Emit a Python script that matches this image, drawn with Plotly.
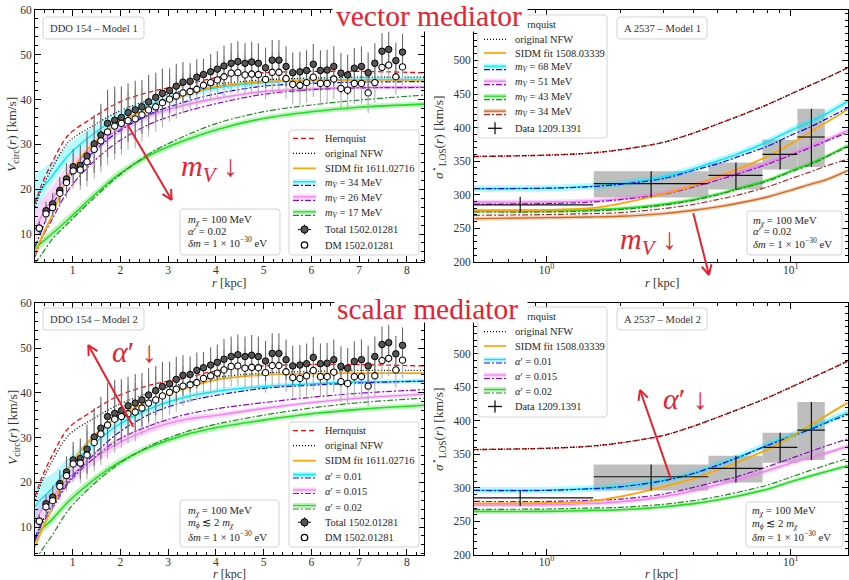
import numpy as np
import plotly.graph_objects as go

# ---------------- DDO 154 rotation curve (1502.01281) ----------------
r_ddo = [0.30, 0.44, 0.58, 0.73, 0.87, 1.01, 1.16, 1.30, 1.45, 1.59, 1.73, 1.88, 2.02, 2.16,
         2.31, 2.45, 2.59, 2.74, 2.88, 3.03, 3.17, 3.31, 3.46, 3.60, 3.74, 3.89, 4.03, 4.17,
         4.32, 4.46, 4.61, 4.75, 4.89, 5.04, 5.18, 5.32, 5.47, 5.61, 5.76, 5.90, 6.04, 6.19,
         6.33, 6.47, 6.62, 6.76, 6.90, 7.05, 7.19, 7.33, 7.48, 7.62, 7.77, 7.91]
v_total = [11.3, 15.2, 16.7, 19.7, 22.3, 25.0, 25.3, 27.4, 30.1, 32.1, 34.7, 35.4, 36.0, 37.1,
           37.7, 38.4, 39.5, 40.5, 41.4, 42.0, 43.0, 43.9, 44.1, 45.0, 45.6, 46.2, 46.8, 47.5,
           48.1, 48.5, 48.1, 48.4, 48.1, 47.1, 48.8, 48.8, 47.4, 46.0, 46.2, 46.5, 47.9, 46.5,
           46.6, 47.4, 45.9, 45.5, 47.0, 47.4, 46.0, 48.1, 50.8, 51.2, 48.7, 50.6]
v_dm = [11.3, 14.5, 15.9, 19.1, 21.5, 24.1, 24.3, 26.1, 28.9, 30.8, 32.8, 34.1, 34.7, 35.3,
        35.7, 36.6, 37.7, 38.4, 39.3, 40.1, 40.8, 41.5, 41.8, 42.3, 43.2, 43.8, 44.4, 45.1,
        45.9, 46.0, 45.5, 45.7, 45.6, 44.5, 46.1, 46.1, 44.7, 43.4, 43.2, 43.8, 45.0, 43.6,
        43.6, 44.6, 42.5, 42.1, 43.6, 43.6, 41.5, 43.8, 47.2, 47.7, 45.1, 47.3]
v_err = [1.5, 2, 2.5, 3, 3.5, 4, 4.5, 5.5, 6.5, 7, 7.5, 7.5, 7, 6.5,
         6.5, 6, 6, 5.5, 5.5, 5, 5, 4.5, 4, 4, 3.5, 4, 4, 4.5,
         4.5, 4.5, 4.5, 4.5, 4.5, 4.5, 4.5, 4.5, 4.5, 4.5, 4.5, 4.5, 4.5, 4.5,
         4.5, 4.5, 4.5, 4.5, 4.5, 4.5, 4.5, 4.5, 4, 4, 4, 4]

# ---------------- A 2537 velocity dispersion (1209.1391) ----------------
r_a2537 = [0.78, 2.68, 5.96, 9.04, 12.14]
sig_a2537 = [285, 316.6, 329, 360.2, 386]
r_lo_a2537 = [0.30, 1.56, 4.60, 7.66, 10.64]
r_hi_a2537 = [1.55, 4.60, 7.66, 10.64, 13.77]
sig_lo_a2537 = [273, 296, 308, 337.5, 341.5]
sig_hi_a2537 = [297, 335, 348, 382, 428]
box_a2537 = [False, True, True, True, True]

# ---------------- DDO 154 model curves ----------------
R_ddo = [0.21, 0.35, 0.56, 0.91, 1.4, 1.95, 2.65, 3.35, 4.05, 5.0, 6.0, 7.0, 8.36]
hern_ddo = [16.8, 21.0, 25.8, 32.1, 35.8, 39.3, 41.8, 43.3, 45.0, 46.0, 46.3, 46.3, 46.0]
nfw_ddo = [16.0, 20.0, 24.5, 30.5, 34.0, 37.3, 40.1, 42.1, 43.5, 44.4, 44.8, 45.0, 45.0]
sidm_ddo = [5.5, 9.3, 14.0, 23.0, 29.9, 34.7, 38.3, 41.0, 43.0, 44.0, 44.3, 44.4, 44.4]
# Model 1 (vector mediator)
mv34_sol = [17.4, 20.0, 22.8, 27.6, 32.1, 36.0, 39.0, 41.2, 42.7, 43.8, 44.3, 44.5, 44.5]
mv34_lo = [14.5, 17.8, 21.0, 26.0, 30.6, 34.8, 38.0, 40.4, 42.0, 43.2, 43.7, 43.9, 43.9]
mv34_hi = [23.2, 24.5, 26.2, 30.0, 33.8, 37.3, 40.0, 41.9, 43.3, 44.4, 44.9, 45.1, 45.1]
mv34_dd = [7.2, 10.8, 16.1, 22.4, 28.0, 32.8, 36.9, 39.5, 41.4, 43.0, 43.6, 43.9, 44.0]
mv26_sol = [10.9, 14.0, 17.6, 23.5, 28.9, 33.2, 36.6, 38.8, 40.3, 41.8, 42.4, 42.7, 42.8]
mv26_lo = [8.0, 11.5, 15.2, 21.5, 27.3, 32.0, 35.8, 38.2, 39.8, 41.4, 42.0, 42.3, 42.4]
mv26_hi = [15.0, 17.8, 20.5, 25.8, 30.6, 34.4, 37.4, 39.4, 40.8, 42.2, 42.8, 43.1, 43.2]
mv26_dd = [4.9, 9.0, 13.1, 19.8, 25.8, 30.6, 34.7, 37.3, 39.2, 41.2, 42.2, 42.6, 42.7]
mv17_sol = [6.8, 8.1, 10.0, 13.3, 18.2, 23.2, 27.8, 30.9, 33.4, 35.8, 37.3, 38.3, 39.0]
mv17_lo = [5.6, 7.0, 9.0, 12.3, 17.3, 22.3, 27.0, 30.2, 32.7, 35.2, 36.7, 37.7, 38.4]
mv17_hi = [8.0, 9.2, 11.0, 14.3, 19.1, 24.1, 28.6, 31.6, 34.1, 36.4, 37.9, 38.9, 39.6]
mv17_dd = [3.5, 5.5, 8.7, 12.5, 17.6, 22.9, 28.2, 31.9, 34.8, 37.3, 38.8, 39.9, 41.0]
# Model 2 (scalar mediator)
a01_sol = [14.5, 16.4, 18.5, 23.3, 28.2, 32.8, 36.6, 39.0, 40.4, 41.4, 42.0, 42.4, 42.6]
a01_lo = [11.0, 13.5, 16.2, 21.5, 26.8, 31.6, 35.7, 38.3, 39.8, 40.9, 41.5, 41.9, 42.1]
a01_hi = [20.0, 20.8, 21.8, 25.6, 29.8, 34.0, 37.5, 39.7, 41.0, 41.9, 42.5, 42.9, 43.1]
a01_dd = [7.5, 11.0, 14.6, 20.2, 25.8, 31.0, 35.4, 38.0, 39.5, 41.0, 41.7, 42.2, 42.6]
a015_sol = [10.9, 13.8, 16.5, 20.9, 25.0, 28.7, 32.0, 34.0, 35.0, 36.5, 37.8, 38.8, 39.7]
a015_lo = [8.5, 11.5, 14.5, 19.2, 23.6, 27.6, 31.1, 33.3, 34.4, 36.0, 37.4, 38.4, 39.3]
a015_hi = [13.5, 16.0, 18.6, 22.7, 26.5, 29.9, 32.9, 34.7, 35.6, 37.0, 38.2, 39.2, 40.1]
a015_dd = [6.8, 10.5, 13.9, 19.8, 25.0, 29.5, 32.8, 35.1, 36.5, 37.8, 39.0, 39.9, 40.7]
a02_sol = [7.5, 9.5, 11.6, 15.7, 20.2, 24.3, 28.0, 30.6, 32.3, 33.9, 35.3, 36.3, 37.2]
a02_lo = [6.3, 8.4, 10.6, 14.7, 19.3, 23.4, 27.2, 29.9, 31.6, 33.3, 34.7, 35.7, 36.6]
a02_hi = [8.7, 10.6, 12.6, 16.7, 21.1, 25.2, 28.8, 31.3, 33.0, 34.5, 35.9, 36.9, 37.8]
a02_dd = [2.5, 4.8, 8.0, 13.8, 19.2, 24.0, 28.3, 31.2, 33.1, 35.0, 36.6, 37.8, 38.8]

# ---------------- A 2537 model curves ----------------
R_a = [0.505, 1, 1.5, 2, 3, 4, 5, 6, 8, 10, 12, 14, 17.1]
hern_a = [357, 359, 362, 367, 378, 392, 405, 416, 434, 450, 463, 474, 489]
nfw_a = [357, 359, 362, 367, 378, 392, 405, 416, 434, 450, 463, 474, 489]
sidm_a = [277, 277.5, 280, 287, 301.5, 314, 326.5, 337.5, 357, 376, 393.5, 408, 427]
# Model 1
mv68_sol = [309.2, 310, 312.6, 316.6, 326.5, 339, 350.3, 360.2, 378.6, 396, 408.4, 420.8, 439]
mv68_dd = [309.2, 309.8, 312, 315.6, 324, 336.5, 346, 356, 372, 388.5, 401, 413, 429.5]
mv51_sol = [289.3, 289.3, 291, 294, 302.7, 314, 324, 332.5, 347.3, 361.2, 372, 382, 396]
mv51_dd = [286, 287, 289, 292.8, 300.7, 311.6, 321.6, 330.5, 345.4, 358.8, 370, 380, 393]
mv43_sol = [276, 276, 277.5, 279.4, 285.8, 292.8, 300.7, 308.7, 321.6, 335.5, 346.4, 357.3, 373]
mv43_dd = [274.5, 274.5, 276, 278, 284.4, 291.8, 299.7, 307.7, 320, 334, 345, 356.3, 372]
mv34a_sol = [264.5, 266, 267, 268, 272, 277, 282, 287, 296.8, 306.7, 315.6, 322.6, 336]
mv34a_dd = [269.5, 270.5, 272, 273.4, 279.4, 285.8, 292.8, 299.2, 311.6, 324, 334, 343, 353]
band_a_68 = [5, 5, 5, 5, 5, 5, 5, 5, 5, 5, 5, 5, 5]
band_a_51 = [3.5, 3.5, 3.5, 3.5, 3.5, 3.5, 3.5, 3.5, 3.5, 3.5, 3.5, 3.5, 3.5]
band_a_43 = [3, 3, 3, 3, 3, 3, 3, 3, 3, 3, 3, 3, 3]
band_a_34 = [3, 3, 3, 3, 3, 3, 3, 3, 3, 3, 3, 3, 3]
# Model 2
a01a_sol = [296.7, 296.7, 299, 302, 311, 322, 334, 345, 364, 378, 389, 399, 412]
a01a_dd = [296.2, 296.2, 298.5, 301.5, 310.5, 321.5, 333.5, 344.3, 363, 376.5, 387, 397, 409.5]
a015a_sol = [274.5, 274.8, 276.5, 279.3, 286.8, 295.7, 304.6, 311.6, 325.5, 337, 345, 352, 362]
a015a_dd = [279.8, 279.8, 281.5, 283.3, 290.7, 300.7, 309.6, 316.5, 331.4, 343.8, 354.2, 362.7, 373]
a02a_sol = [265, 265, 266.5, 267.5, 271.5, 276.5, 282, 287.5, 298, 309, 317.5, 324.5, 333]
a02a_dd = [268, 268.5, 270, 271, 275.5, 281, 287, 293, 304, 316, 326, 334, 344]
band_b_01 = [5, 5, 5, 5, 5, 5, 5, 5, 5, 5, 5, 5, 5]
band_b_015 = [3.5, 3.5, 3.5, 3.5, 3.5, 3.5, 3.5, 3.5, 3.5, 3.5, 3.5, 3.5, 3.5]
band_b_02 = [3, 3, 3, 3, 3, 3, 3, 3, 3, 3, 3, 3, 3]

# ---------------- style ----------------
FONT = "Liberation Serif"
RED_TXT = "#e8202f"
C_RED = "#ff0000"
C_ORANGE = "#ffa500"
C_CYAN = "#00e6ff"
B_CYAN = "rgba(0,230,255,0.28)"
C_BLUE = "#0a0aff"
C_VIOLET = "#ee82ee"
B_VIOLET = "rgba(238,130,238,0.33)"
C_PURPLE = "#9400d3"
C_GREEN = "#22dd22"
B_GREEN = "rgba(40,220,40,0.30)"
C_DGREEN = "#1e8b1e"
C_CHOC = "#d2691e"
B_CHOC = "rgba(210,105,30,0.30)"
C_BROWN = "#a52a2a"
DASH = "5px,3px"
DOT = "1px,2px"
DASHDOT = "6px,2px,2px,2px"

W, H = 849, 580
ML, MR, MT, MB = 35, 1, 10, 25
PW = W - ML - MR
PH = H - MT - MB


def X(px):
    return (px - ML) / PW


def Y(py):
    return 1 - (py - MT) / PH


fig = go.Figure()


def ids(i):
    return ("x" if i == 1 else "x%d" % i, "y" if i == 1 else "y%d" % i)


def add_line(i, x, y, color, width, dash="solid"):
    xa, ya = ids(i)
    fig.add_trace(go.Scatter(x=x, y=y, mode="lines", xaxis=xa, yaxis=ya,
                             line=dict(color=color, width=width, dash=dash, shape="spline", smoothing=0.9),
                             hoverinfo="skip", showlegend=False))


def add_band(i, x, lo, hi, color):
    xa, ya = ids(i)
    fig.add_trace(go.Scatter(x=x, y=lo, mode="lines", xaxis=xa, yaxis=ya,
                             line=dict(width=0, shape="spline", smoothing=0.9),
                             hoverinfo="skip", showlegend=False))
    fig.add_trace(go.Scatter(x=x, y=hi, mode="lines", xaxis=xa, yaxis=ya, fill="tonexty", fillcolor=color,
                             line=dict(width=0, shape="spline", smoothing=0.9),
                             hoverinfo="skip", showlegend=False))


def band_from_width(c, w):
    return [a - b for a, b in zip(c, w)], [a + b for a, b in zip(c, w)]


def add_ddo_data(i):
    xa, ya = ids(i)
    fig.add_trace(go.Scatter(x=r_ddo, y=v_dm, mode="markers", xaxis=xa, yaxis=ya,
                             marker=dict(size=2, color="rgba(0,0,0,0)"),
                             error_y=dict(type="data", array=v_err, color="#b0b0b0", thickness=1.1, width=0),
                             hoverinfo="skip", showlegend=False))
    fig.add_trace(go.Scatter(x=r_ddo, y=v_total, mode="markers", xaxis=xa, yaxis=ya,
                             marker=dict(size=6.5, color="#555555", line=dict(color="black", width=1)),
                             error_y=dict(type="data", array=v_err, color="#6a6a6a", thickness=1.1, width=0),
                             hoverinfo="skip", showlegend=False))
    fig.add_trace(go.Scatter(x=r_ddo, y=v_dm, mode="markers", xaxis=xa, yaxis=ya,
                             marker=dict(size=6.3, color="white", line=dict(color="black", width=1.1)),
                             hoverinfo="skip", showlegend=False))


def add_a2537_boxes(i):
    xa, ya = ids(i)
    for k in range(len(r_a2537)):
        if not box_a2537[k]:
            continue
        fig.add_trace(go.Scatter(
            x=[r_lo_a2537[k], r_hi_a2537[k], r_hi_a2537[k], r_lo_a2537[k], r_lo_a2537[k]],
            y=[sig_lo_a2537[k], sig_lo_a2537[k], sig_hi_a2537[k], sig_hi_a2537[k], sig_lo_a2537[k]],
            mode="lines", fill="toself", fillcolor="#bebebe", line=dict(width=0),
            xaxis=xa, yaxis=ya, hoverinfo="skip", showlegend=False))


def add_a2537_cross(i):
    xa, ya = ids(i)
    fig.add_trace(go.Scatter(
        x=r_a2537, y=sig_a2537, mode="markers", xaxis=xa, yaxis=ya,
        marker=dict(size=1, color="rgba(0,0,0,0)"),
        error_x=dict(type="data", symmetric=False,
                     array=[h - r for h, r in zip(r_hi_a2537, r_a2537)],
                     arrayminus=[r - l for l, r in zip(r_lo_a2537, r_a2537)],
                     color="#111111", thickness=1.2, width=0),
        error_y=dict(type="data", symmetric=False,
                     array=[h - s for h, s in zip(sig_hi_a2537, sig_a2537)],
                     arrayminus=[s - l for l, s in zip(sig_lo_a2537, sig_a2537)],
                     color="#111111", thickness=1.2, width=0),
        hoverinfo="skip", showlegend=False))


# ---------- panel 1 : DDO 154 model 1 ----------
add_band(1, R_ddo, mv34_lo, mv34_hi, B_CYAN)
add_band(1, R_ddo, mv26_lo, mv26_hi, B_VIOLET)
add_band(1, R_ddo, mv17_lo, mv17_hi, B_GREEN)
add_line(1, R_ddo, mv34_sol, C_CYAN, 1.4)
add_line(1, R_ddo, mv26_sol, C_VIOLET, 1.4)
add_line(1, R_ddo, mv17_sol, C_GREEN, 1.6)
add_line(1, R_ddo, mv34_dd, C_BLUE, 1.2, DASHDOT)
add_line(1, R_ddo, mv26_dd, C_PURPLE, 1.2, DASHDOT)
add_line(1, R_ddo, mv17_dd, C_DGREEN, 1.2, DASHDOT)
add_line(1, R_ddo, hern_ddo, C_RED, 1.3, DASH)
add_line(1, R_ddo, nfw_ddo, "black", 1.3, DOT)
add_line(1, R_ddo, sidm_ddo, C_ORANGE, 1.8)
add_ddo_data(1)

# ---------- panel 2 : A 2537 model 1 ----------
add_a2537_boxes(2)
for c, w, col in [(mv68_sol, band_a_68, B_CYAN), (mv51_sol, band_a_51, B_VIOLET),
                  (mv43_sol, band_a_43, B_GREEN), (mv34a_sol, band_a_34, B_CHOC)]:
    lo, hi = band_from_width(c, w)
    add_band(2, R_a, lo, hi, col)
add_line(2, R_a, mv68_sol, C_CYAN, 1.4)
add_line(2, R_a, mv51_sol, C_VIOLET, 1.4)
add_line(2, R_a, mv43_sol, C_GREEN, 1.6)
add_line(2, R_a, mv34a_sol, C_CHOC, 1.4)
add_line(2, R_a, mv68_dd, C_BLUE, 1.2, DASHDOT)
add_line(2, R_a, mv51_dd, C_PURPLE, 1.2, DASHDOT)
add_line(2, R_a, mv43_dd, C_DGREEN, 1.2, DASHDOT)
add_line(2, R_a, mv34a_dd, C_BROWN, 1.2, DASHDOT)
add_line(2, R_a, sidm_a, C_ORANGE, 1.8)
add_line(2, R_a, hern_a, C_RED, 1.4, DASH)
add_line(2, R_a, nfw_a, "black", 1.3, DOT)
add_a2537_cross(2)

# ---------- panel 3 : DDO 154 model 2 ----------
add_band(3, R_ddo, a01_lo, a01_hi, B_CYAN)
add_band(3, R_ddo, a015_lo, a015_hi, B_VIOLET)
add_band(3, R_ddo, a02_lo, a02_hi, B_GREEN)
add_line(3, R_ddo, a01_sol, C_CYAN, 1.4)
add_line(3, R_ddo, a015_sol, C_VIOLET, 1.4)
add_line(3, R_ddo, a02_sol, C_GREEN, 1.6)
add_line(3, R_ddo, a01_dd, C_BLUE, 1.2, DASHDOT)
add_line(3, R_ddo, a015_dd, C_PURPLE, 1.2, DASHDOT)
add_line(3, R_ddo, a02_dd, C_DGREEN, 1.2, DASHDOT)
add_line(3, R_ddo, hern_ddo, C_RED, 1.3, DASH)
add_line(3, R_ddo, nfw_ddo, "black", 1.3, DOT)
add_line(3, R_ddo, sidm_ddo, C_ORANGE, 1.8)
add_ddo_data(3)

# ---------- panel 4 : A 2537 model 2 ----------
add_a2537_boxes(4)
for c, w, col in [(a01a_sol, band_b_01, B_CYAN), (a015a_sol, band_b_015, B_VIOLET),
                  (a02a_sol, band_b_02, B_GREEN)]:
    lo, hi = band_from_width(c, w)
    add_band(4, R_a, lo, hi, col)
add_line(4, R_a, a01a_sol, C_CYAN, 1.4)
add_line(4, R_a, a015a_sol, C_VIOLET, 1.4)
add_line(4, R_a, a02a_sol, C_GREEN, 1.6)
add_line(4, R_a, a01a_dd, C_BLUE, 1.2, DASHDOT)
add_line(4, R_a, a015a_dd, C_PURPLE, 1.2, DASHDOT)
add_line(4, R_a, a02a_dd, C_DGREEN, 1.2, DASHDOT)
add_line(4, R_a, sidm_a, C_ORANGE, 1.8)
add_line(4, R_a, hern_a, C_RED, 1.4, DASH)
add_line(4, R_a, nfw_a, "black", 1.3, DOT)
add_a2537_cross(4)

# ---------------- axes ----------------
tickfont = dict(family=FONT, size=11.5, color="#333333")


def base_axis(**kw):
    d = dict(showline=True, linecolor="black", linewidth=1, mirror="ticks", ticks="inside",
             ticklen=6, tickwidth=1, tickcolor="black", showgrid=False, zeroline=False,
             tickfont=tickfont, fixedrange=True)
    d.update(kw)
    return d


col1 = [X(35), X(424)]
col2 = [X(474), X(848)]
row1 = [Y(262), Y(10)]
row2 = [max(0, Y(555)), Y(303.3)]
log_minor = [0.5, 0.6, 0.7, 0.8, 0.9, 2, 3, 4, 5, 6, 7, 8, 9]
sig_major = [200, 250, 300, 350, 400, 450, 500]
sig_minor = list(range(200, 576, 10))


def lin_x(standoff):
    return dict(range=[0.21, 8.36], tick0=0, dtick=1, ticklabelstandoff=standoff,
                minor=dict(ticks="inside", ticklen=3, tickcolor="black", dtick=0.2, tick0=0, showgrid=False))


def log_x(standoff):
    return dict(type="log", range=[-0.297, 1.234], tickmode="array", tickvals=[1, 10],
                ticktext=["10<sup>0</sup>", "10<sup>1</sup>"], ticklabelstandoff=standoff,
                minor=dict(ticks="inside", ticklen=3, tickcolor="black", tickmode="array",
                           tickvals=log_minor, showgrid=False))


lin_y = dict(range=[3.75, 60], tick0=0, dtick=10,
             minor=dict(ticks="inside", ticklen=3, tickcolor="black", dtick=2, tick0=0, showgrid=False))
sig_y = dict(range=[200, 575], tickmode="array", tickvals=sig_major,
             minor=dict(ticks="inside", ticklen=3, tickcolor="black", tickmode="array",
                        tickvals=sig_minor, showgrid=False))

fig.update_layout(
    xaxis=base_axis(domain=col1, anchor="y", **lin_x(-3)),
    yaxis=base_axis(domain=row1, anchor="x", **lin_y),
    xaxis2=base_axis(domain=col2, anchor="y2", **log_x(-3)),
    yaxis2=base_axis(domain=row1, anchor="x2", **sig_y),
    xaxis3=base_axis(domain=col1, anchor="y3", **lin_x(-4)),
    yaxis3=base_axis(domain=row2, anchor="x3", **lin_y),
    xaxis4=base_axis(domain=col2, anchor="y4", **log_x(-4)),
    yaxis4=base_axis(domain=row2, anchor="x4", **sig_y),
)

# ---------------- decorations (legends, labels, arrows) ----------------
shapes = []
annos = []


def rbox(x0, y0, x1, y1, r=3, fill="rgba(255,255,255,0.85)", edge="#d4d4d4"):
    def p(a, b):
        return "%.5f,%.5f" % (X(a), Y(b))
    path = ("M" + p(x0 + r, y0) + " L" + p(x1 - r, y0) + " Q" + p(x1, y0) + " " + p(x1, y0 + r) +
            " L" + p(x1, y1 - r) + " Q" + p(x1, y1) + " " + p(x1 - r, y1) +
            " L" + p(x0 + r, y1) + " Q" + p(x0, y1) + " " + p(x0, y1 - r) +
            " L" + p(x0, y0 + r) + " Q" + p(x0, y0) + " " + p(x0 + r, y0) + " Z")
    shapes.append(dict(type="path", xref="paper", yref="paper", path=path, fillcolor=fill,
                       line=dict(color=edge, width=1), layer="above"))


def sline(x0, y0, x1, y1, color, width, dash="solid"):
    shapes.append(dict(type="line", xref="paper", yref="paper", x0=X(x0), y0=Y(y0), x1=X(x1), y1=Y(y1),
                       line=dict(color=color, width=width, dash=dash), layer="above"))


def circ(x, y, r, fill, edge, lw=1):
    shapes.append(dict(type="circle", xref="paper", yref="paper", x0=X(x - r), x1=X(x + r),
                       y0=Y(y + r), y1=Y(y - r), fillcolor=fill, line=dict(color=edge, width=lw),
                       layer="above"))


def txt(x, y, s, size=10.4, color="#262626", xanchor="left", **kw):
    annos.append(dict(x=X(x), y=Y(y), xref="paper", yref="paper", text=s, showarrow=False,
                      xanchor=xanchor, yanchor="middle", font=dict(family=FONT, size=size, color=color), **kw))


def arrow(tx, ty, hx, hy, color="#e8202f", width=2, L=11, ang=27):
    sline(tx, ty, hx, hy, color, width)
    d = np.array([hx - tx, hy - ty], dtype=float)
    d /= np.hypot(*d)
    for s in (1, -1):
        a = np.radians(ang * s)
        rot = np.array([[np.cos(a), -np.sin(a)], [np.sin(a), np.cos(a)]])
        e = rot @ d
        sline(hx, hy, hx - L * e[0], hy - L * e[1], color, width)


def legend(box, x0, x1, xt, ys, items):
    rbox(*box)
    xc = 0.5 * (x0 + x1)
    for y, (kind, label, spec) in zip(ys, items):
        if kind == "line":
            col, w, dash = spec
            sline(x0, y, x1, y, col, w, dash)
        elif kind == "double":
            bandc, solc, ddc = spec
            sline(x0, y - 1.5, x1, y - 1.5, bandc, 5)
            sline(x0, y - 1.5, x1, y - 1.5, solc, 1.3)
            sline(x0, y + 2, x1, y + 2, ddc, 1.2, DASHDOT)
        elif kind == "total":
            sline(xc - 6.5, y, xc + 6.5, y, "#333333", 1.2)
            sline(xc, y - 5, xc, y + 5, "#333333", 1.2)
            circ(xc, y, 3.6, "#555555", "black")
        elif kind == "dm":
            circ(xc, y, 3.2, "white", "black", 1.3)
        elif kind == "cross":
            sline(xc - 7, y, xc + 7, y, "#111111", 1.3)
            sline(xc, y - 6, xc, y + 6, "#111111", 1.3)
        txt(xt, y, label)


MV = "<i>m<sub>V</sub></i>"
AP = "<i>α</i>′"
items_p1 = [("line", "Hernquist", (C_RED, 1.3, DASH)),
            ("line", "original NFW", ("black", 1.3, DOT)),
            ("line", "SIDM fit 1611.02716", (C_ORANGE, 1.7, "solid")),
            ("double", MV + " = 34 MeV", (B_CYAN, C_CYAN, C_BLUE)),
            ("double", MV + " = 26 MeV", (B_VIOLET, C_VIOLET, C_PURPLE)),
            ("double", MV + " = 17 MeV", (B_GREEN, C_GREEN, C_DGREEN)),
            ("total", "Total 1502.01281", None),
            ("dm", "DM 1502.01281", None)]
items_p3 = [("line", "Hernquist", (C_RED, 1.3, DASH)),
            ("line", "original NFW", ("black", 1.3, DOT)),
            ("line", "SIDM fit 1611.02716", (C_ORANGE, 1.7, "solid")),
            ("double", AP + " = 0.01", (B_CYAN, C_CYAN, C_BLUE)),
            ("double", AP + " = 0.015", (B_VIOLET, C_VIOLET, C_PURPLE)),
            ("double", AP + " = 0.02", (B_GREEN, C_GREEN, C_DGREEN)),
            ("total", "Total 1502.01281", None),
            ("dm", "DM 1502.01281", None)]
items_p2 = [("line", "Hernquist", (C_RED, 1.3, DASH)),
            ("line", "original NFW", ("black", 1.3, DOT)),
            ("line", "SIDM fit 1508.03339", (C_ORANGE, 1.7, "solid")),
            ("double", MV + " = 68 MeV", (B_CYAN, C_CYAN, C_BLUE)),
            ("double", MV + " = 51 MeV", (B_VIOLET, C_VIOLET, C_PURPLE)),
            ("double", MV + " = 43 MeV", (B_GREEN, C_GREEN, C_DGREEN)),
            ("double", MV + " = 34 MeV", (B_CHOC, C_CHOC, C_BROWN)),
            ("cross", "Data 1209.1391", None)]
items_p4 = [("line", "Hernquist", (C_RED, 1.3, DASH)),
            ("line", "original NFW", ("black", 1.3, DOT)),
            ("line", "SIDM fit 1508.03339", (C_ORANGE, 1.7, "solid")),
            ("double", AP + " = 0.01", (B_CYAN, C_CYAN, C_BLUE)),
            ("double", AP + " = 0.015", (B_VIOLET, C_VIOLET, C_PURPLE)),
            ("double", AP + " = 0.02", (B_GREEN, C_GREEN, C_DGREEN)),
            ("cross", "Data 1209.1391", None)]

legend((289, 130, 419, 255), 293, 316, 323, [138.3, 153.3, 168.3, 183.3, 198.3, 213.3, 229.5, 245], items_p1)
legend((289, 422, 419, 547), 293, 316, 323, [430.7, 445.7, 460.7, 476, 491.5, 507, 522.3, 537.5], items_p3)
legend((478, 15, 607, 138), 484, 506, 513, [24, 39.3, 53, 67.7, 82.7, 97.7, 112.7, 128.3], items_p2)
legend((478, 307, 607, 417), 484, 506, 513, [316.7, 331.7, 346, 361, 376.5, 391, 406.5], items_p4)

# panel name boxes
for (bx0, by0, bx1, by1), s in [((43, 17, 144, 39), "DDO 154 – Model 1"),
                                ((617, 17, 707, 39), "A 2537 – Model 1"),
                                ((43, 308, 144, 330), "DDO 154 – Model 2"),
                                ((617, 308, 707, 330), "A 2537 – Model 2")]:
    rbox(bx0, by0, bx1, by1)
    txt(0.5 * (bx0 + bx1), 0.5 * (by0 + by1), s, size=10.6, color="#333333", xanchor="center")

# parameter boxes
MCHI = "<i>m<sub>χ</sub></i>"
p_model1 = [MCHI + " = 100 MeV", "<i>α</i>′ = 0.02", "<i>δm</i> = 1 × 10<sup>−30</sup> eV"]
p_model2 = [MCHI + " = 100 MeV", "<i>m<sub>ϕ</sub></i> ≲ 2 " + MCHI, "<i>δm</i> = 1 × 10<sup>−30</sup> eV"]
for (bx0, by0, bx1, by1), xt, ys, lines in [((180, 209, 280, 255), 186, [220, 231, 242], p_model1),
                                            ((747, 211, 842, 255), 751, [220.5, 231.5, 242.5], p_model1),
                                            ((180, 500, 279, 547), 186, [510.5, 523.3, 536], p_model2),
                                            ((746, 502, 843, 547), 750, [511, 523.5, 536], p_model2)]:
    rbox(bx0, by0, bx1, by1)
    for y, s in zip(ys, lines):
        txt(xt, y, s, size=10.8)

# arrows + trend labels
arrow(127.7, 125, 171.7, 200)
arrow(693.3, 213.3, 709, 275)
arrow(133.3, 426.7, 88.3, 345)
arrow(671, 479.3, 640, 390)
txt(209, 168, "<i>m<sub>V</sub></i> ↓", size=30, color=RED_TXT, xanchor="center")
txt(648, 241, "<i>m<sub>V</sub></i> ↓", size=30, color=RED_TXT, xanchor="center")
txt(134, 351, "<i>α</i>′ ↓", size=30, color=RED_TXT, xanchor="center")
txt(685, 398, "<i>α</i>′ ↓", size=30, color=RED_TXT, xanchor="center")

# axis titles
for xc, yc, sz in [(229, 283, 12.5), (661.7, 283, 12.5), (229, 573.5, 12), (661.7, 573.5, 12)]:
    txt(xc, yc, "<i>r</i> [kpc]", size=sz, color="#333333", xanchor="center")
for xc, yc in [(13, 135), (13, 428)]:
    txt(xc, yc, "<i>V</i><sub>circ</sub>(<i>r</i>) [km/s]", size=13.5, color="#333333", xanchor="center",
        textangle=-90)
for xc, yc in [(438, 138), (438, 430)]:
    txt(xc, yc, "<i>σ</i><sup>⋆</sup><sub>LOS</sub>(<i>r</i>) [km/s]", size=13.5, color="#333333",
        xanchor="center", textangle=-90)

# row titles with white background boxes (drawn last so they sit on top)
for (cx, cy, bw, bh), (tx, ty), s in [((430, 15.5, 194, 31), (428.5, 16.5), "vector mediator"),
                                      ((431, 306.5, 192, 31), (427, 309), "scalar mediator")]:
    annos.append(dict(x=X(cx), y=Y(cy), xref="paper", yref="paper", text=" ", showarrow=False,
                      xanchor="center", yanchor="middle", width=bw, height=bh, bgcolor="white",
                      borderpad=0, font=dict(family=FONT, size=10)))
    txt(tx, ty, s, size=29.5, color=RED_TXT, xanchor="center")

fig.update_layout(
    width=W, height=H,
    margin=dict(l=ML, r=MR, t=MT, b=MB, autoexpand=False),
    paper_bgcolor="white", plot_bgcolor="white",
    showlegend=False,
    font=dict(family=FONT, size=11, color="#333333"),
    shapes=shapes, annotations=annos,
)

fig.write_html("out.html", config={"displayModeBar": False, "staticPlot": True},
               post_script="document.body.style.margin='0px';document.body.style.padding='0px';")
